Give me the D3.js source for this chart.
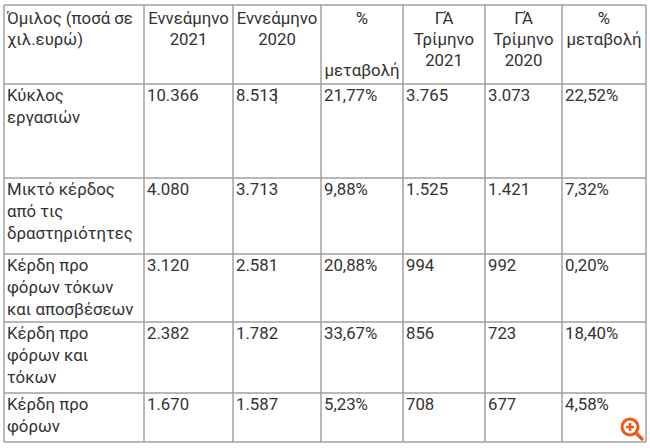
<!DOCTYPE html>
<html><head><meta charset="utf-8">
<script src="https://cdn.jsdelivr.net/npm/d3@7"></script>
<style>body{margin:0;background:#fff}text{font-family:Roboto,sans-serif;font-size:16.8px;fill:#333}</style>
</head><body>
<script>
var headers = [
  ["Όμιλος (ποσά σε", "χιλ.ευρώ)"],
  ["Εννεάμηνο", "2021"],
  ["Εννεάμηνο", "2020"],
  ["%", "", "μεταβολή"],
  ["ΓΆ", "Τρίμηνο", "2021"],
  ["ΓΆ", "Τρίμηνο", "2020"],
  ["%", "μεταβολή"]
];
var headerAlign = ["start", "middle", "middle", "middle", "middle", "middle", "middle"];
var rowLabels = [
  ["Κύκλος", "εργασιών"],
  ["Μικτό κέρδος", "από τις", "δραστηριότητες"],
  ["Κέρδη προ", "φόρων τόκων", "και αποσβέσεων"],
  ["Κέρδη προ", "φόρων και", "τόκων"],
  ["Κέρδη προ", "φόρων"]
];
var values9m2021 = ["10.366", "4.080", "3.120", "2.382", "1.670"];
var values9m2020 = ["8.513", "3.713", "2.581", "1.782", "1.587"];
var change9m = ["21,77%", "9,88%", "20,88%", "33,67%", "5,23%"];
var valuesQ3_2021 = ["3.765", "1.525", "994", "856", "708"];
var valuesQ3_2020 = ["3.073", "1.421", "992", "723", "677"];
var changeQ3 = ["22,52%", "7,32%", "0,20%", "18,40%", "4,58%"];

var colEdges = [4, 144, 233, 321, 403, 485, 562, 646];
var rowEdges = [5, 84, 178, 254, 322, 393, 442];
var lineH = 22;

var svg = d3.select("body").append("svg").attr("width", 650).attr("height", 448);

var x = d3.scaleOrdinal().domain(d3.range(8)).range(colEdges);
var y = d3.scaleOrdinal().domain(d3.range(7)).range(rowEdges);

// grid
svg.append("g").selectAll("line.v").data(colEdges).enter().append("line")
  .attr("x1", function(d) { return d; }).attr("x2", function(d) { return d; })
  .attr("y1", rowEdges[0]).attr("y2", rowEdges[rowEdges.length - 1])
  .attr("stroke", "#a0a0a0").attr("stroke-width", 1.5);
svg.append("g").selectAll("line.h").data(rowEdges).enter().append("line")
  .attr("y1", function(d) { return d; }).attr("y2", function(d) { return d; })
  .attr("x1", colEdges[0]).attr("x2", colEdges[colEdges.length - 1])
  .attr("stroke", "#a0a0a0").attr("stroke-width", 1.5);

// header
headers.forEach(function(lines, c) {
  var left = x(c), right = x(c + 1);
  var tx = headerAlign[c] == "start" ? left + 3 : (left + right) / 2;
  lines.forEach(function(s, i) {
    svg.append("text").attr("x", tx).attr("y", y(0) + 19 + i * 21 + (c == 3 && i == 2 ? 10 : 0))
      .attr("text-anchor", headerAlign[c]).text(s);
  });
});

// body
var cols = [values9m2021, values9m2020, change9m, valuesQ3_2021, valuesQ3_2020, changeQ3];
rowLabels.forEach(function(lines, r) {
  var top = y(r + 1);
  lines.forEach(function(s, i) {
    svg.append("text").attr("x", x(0) + 3).attr("y", top + 17 + i * lineH).text(s);
  });
  cols.forEach(function(arr, c) {
    svg.append("text").attr("x", x(c + 1) + 3).attr("y", top + 17).text(arr[r]);
  });
});

// text cursor after 8.513
svg.append("line").attr("x1", 276).attr("x2", 276).attr("y1", 88).attr("y2", 104).attr("stroke", "#333");

// zoom icon
var ic = svg.append("g").attr("transform", "translate(630,427)");
ic.append("line").attr("x1", 6).attr("y1", 6).attr("x2", 12).attr("y2", 12).attr("stroke", "#f25a1d").attr("stroke-width", 3.5).attr("stroke-linecap", "round");
ic.append("circle").attr("r", 8).attr("fill", "#fff").attr("stroke", "#f25a1d").attr("stroke-width", 3);
ic.append("path").attr("d", "M-4,0H4M0,-4V4").attr("stroke", "#f25a1d").attr("stroke-width", 2.5);
</script>
</body></html>
